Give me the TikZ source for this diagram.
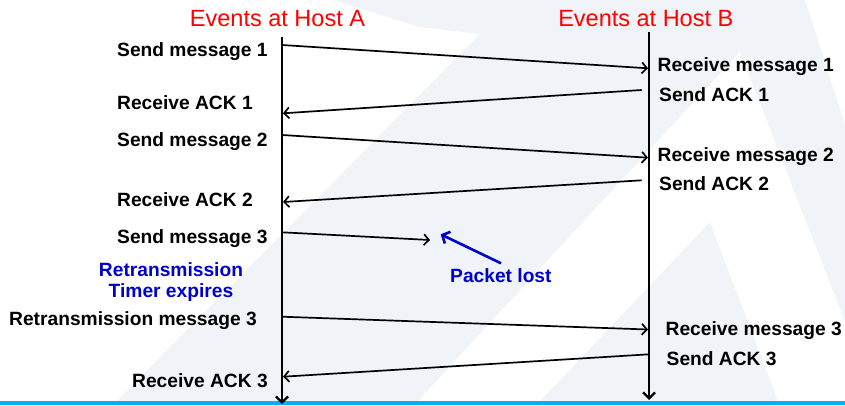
\documentclass[tikz,border=0pt]{standalone}
\usepackage{fontspec}
\setmainfont{Liberation Sans}
\usetikzlibrary{arrows.meta}
\definecolor{wmgrey}{RGB}{240,244,248}
\definecolor{barcyan}{RGB}{0,176,240}
\definecolor{noteblue}{RGB}{0,0,204}

\begin{document}
\begin{tikzpicture}[x=1pt,y=-1pt,
  evt/.style={font=\bfseries\fontsize{19.2}{23}\selectfont, inner sep=0pt},
  note/.style={evt, text=noteblue},
  host/.style={font=\fontsize{23.5}{28}\selectfont, text=red, inner sep=0pt},
  msg/.style={line width=1.7pt, -{Straight Barb[length=5pt,width=11pt]}},
  timeline/.style={line width=2.3pt, -{Straight Barb[length=6pt,width=12pt]}},
  lost/.style={line width=2.6pt, noteblue, -{Straight Barb[length=6pt,width=13pt]}}]

\useasboundingbox (0,0) rectangle (845,405);

% faint backdrop
\fill[white] (0,0) rectangle (845,405);
\fill[wmgrey] (117,401) -- (480,34) -- (420,27) -- (333,0) -- (805,0)
  -- (845,125) -- (845,401) -- cycle;
\fill[white] (418,401) -- (740,52) -- (845,322) -- (845,401) -- (778,401)
  -- (710,222) -- (540,401) -- cycle;
\fill[barcyan] (0,401) rectangle (845,405);

% host headings
\node[host, anchor=base] (hA) at (277.5,26) {Events at Host A};
\node[host, anchor=base] (hB) at (645.8,26) {Events at Host B};

% time lines
\coordinate (Atop) at (282,37);
\coordinate (Abot) at (282,404);
\coordinate (Btop) at (649,32);
\coordinate (Bbot) at (649,400);
\draw[timeline] (Atop) -- (Abot);
\draw[timeline] (Btop) -- (Bbot);

% message end points
\coordinate (m1s) at (282,45);    \coordinate (m1e) at (648,68.3);
\coordinate (a1s) at (641.7,90);  \coordinate (a1e) at (283,113.3);
\coordinate (m2s) at (282,135);   \coordinate (m2e) at (648,157.7);
\coordinate (a2s) at (641.7,180.3); \coordinate (a2e) at (283,202);
\coordinate (m3s) at (282,232.3); \coordinate (m3e) at (430,240);
\coordinate (r3s) at (282,316.7); \coordinate (r3e) at (648,329.5);
\coordinate (a3s) at (649,354.3); \coordinate (a3e) at (283,376.7);

\draw[msg] (m1s) -- (m1e);
\draw[msg] (a1s) -- (a1e);
\draw[msg] (m2s) -- (m2e);
\draw[msg] (a2s) -- (a2e);
\draw[msg] (m3s) -- (m3e);
\draw[msg] (r3s) -- (r3e);
\draw[msg] (a3s) -- (a3e);

% events at host A
\node[evt, anchor=base west] (tA1) at (117,56) {Send message 1};
\node[evt, anchor=base west] (tA2) at (117,109) {Receive ACK 1};
\node[evt, anchor=base west] (tA3) at (117,146) {Send message 2};
\node[evt, anchor=base west] (tA4) at (117,206) {Receive ACK 2};
\node[evt, anchor=base west] (tA5) at (117,243) {Send message 3};
\node[note, anchor=base] (tT1) at (171,276) {Retransmission};
\node[note, anchor=base] (tT2) at (171,297) {Timer expires};
\node[evt, anchor=base west] (tA6) at (9,325) {Retransmission message 3};
\node[evt, anchor=base west] (tA7) at (132,387.5) {Receive ACK 3};

% events at host B
\node[evt, anchor=base west] (tB1) at (657.5,71) {Receive message 1};
\node[evt, anchor=base west] (tB2) at (659,101) {Send ACK 1};
\node[evt, anchor=base west] (tB3) at (657.5,161) {Receive message 2};
\node[evt, anchor=base west] (tB4) at (659,190.7) {Send ACK 2};
\node[evt, anchor=base west] (tB5) at (665.5,335.5) {Receive message 3};
\node[evt, anchor=base west] (tB6) at (666.5,365.7) {Send ACK 3};

% lost packet note
\node[note, anchor=base west] (lostlbl) at (450,282.7) {Packet lost};
\coordinate (lostfrom) at (501,263.3);
\coordinate (lostto) at (440.7,234.3);
\draw[lost] (lostfrom) -- (lostto);
\end{tikzpicture}
\end{document}
